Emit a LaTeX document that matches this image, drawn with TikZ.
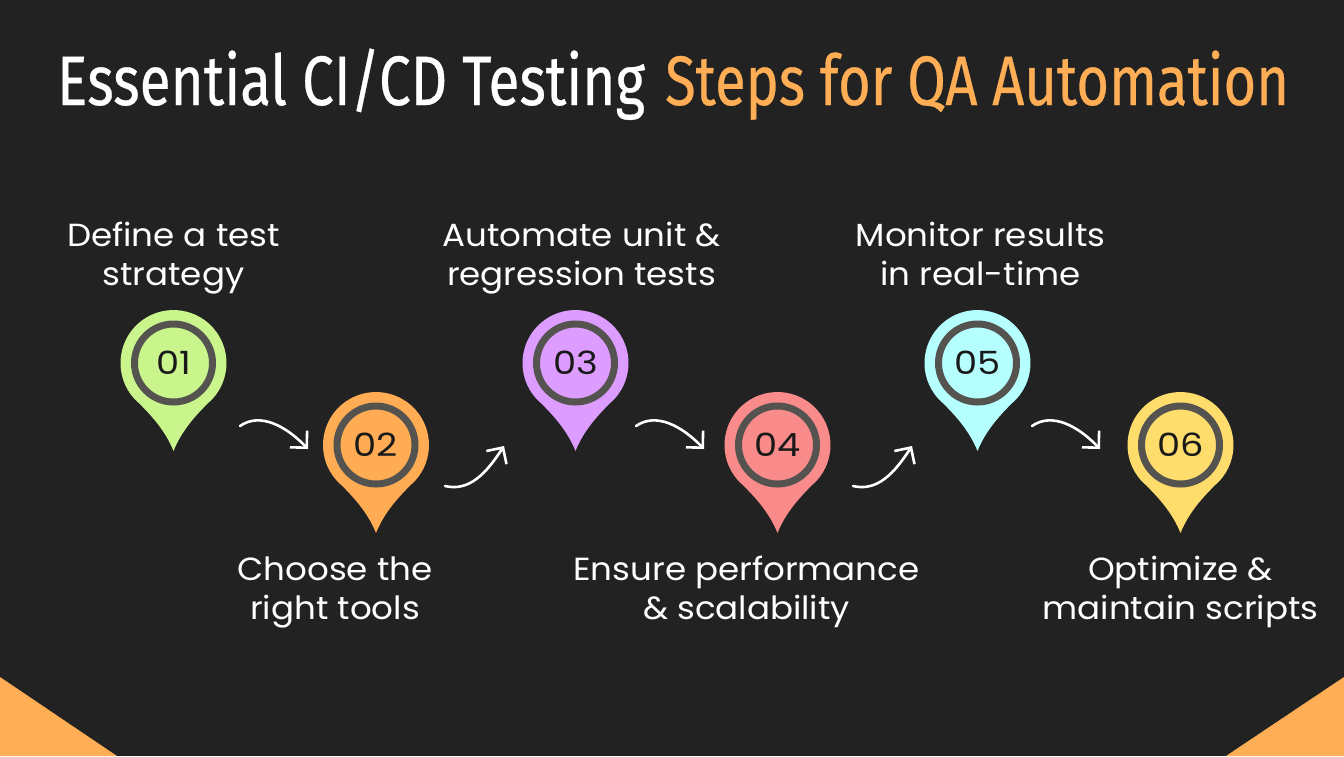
\documentclass[tikz,border=0pt]{standalone}
\usepackage{fontspec}
\setmainfont{Poppins}
\newfontfamily\titlefont[FakeBold=0.5]{Fira Sans}
\usetikzlibrary{arrows.meta}
\definecolor{bgdark}{HTML}{222222}
\definecolor{accent}{HTML}{FFAE55}
\definecolor{ringc}{HTML}{555350}
\definecolor{pgreen}{HTML}{C9F58C}
\definecolor{porange}{HTML}{FFAC55}
\definecolor{ppurple}{HTML}{DD9CFF}
\definecolor{pred}{HTML}{F98B8B}
\definecolor{pcyan}{HTML}{B6FFFF}
\definecolor{pyellow}{HTML}{FFDD6C}
\newcommand{\cs}{\vphantom{Ag}}
\newcommand{\wide}[1]{\scalebox{1.15}[1]{#1}}
\tikzset{
  ring/.style={circle,draw=ringc,line width=7pt,minimum size=78pt,inner sep=0pt,font=\fontsize{32}{34}\selectfont,text=black!90},
  caption/.style={text=white,align=center,font=\fontsize{32}{39}\selectfont,inner sep=0pt,xscale=1.065},
  flow/.style={draw=white,line width=2.6pt,line cap=round,-{Straight Barb[length=12pt,width=24pt,line width=2.6pt]}},
  titletext/.style={inner sep=0pt,anchor=base west,font=\titlefont\fontsize{70}{76}\selectfont}
}
\newcommand{\mypin}[5]{%
  \fill[#4] (#2-39.4,#3+35.5) arc[start angle=138,end angle=402,radius=53]
    .. controls (#2+22,#3+52) and (#2+8,#3+68) .. (#2,#3+88)
    .. controls (#2-8,#3+68) and (#2-22,#3+52) .. cycle;
  \node[ring] (#1) at (#2,#3) {\wide{#5}};
}
\begin{document}
\begin{tikzpicture}[x=1pt,y=-1pt]
\useasboundingbox (0,0) rectangle (1344,756);
\fill[bgdark] (0,0) rectangle (1344,756);
\fill[accent] (0,677) -- (117,756) -- (0,756) -- cycle;
\fill[accent] (1344,677) -- (1226,756) -- (1344,756) -- cycle;

\node[titletext,text=white,xscale=0.81] (t1) at (57,105) {Essential CI/CD Testing};
\node[titletext,text=accent,xscale=0.80] (t2) at (665,105) {Steps for QA Automation};

\mypin{p1}{173.5}{363}{pgreen}{01}
\mypin{p2}{376}{445}{porange}{02}
\mypin{p3}{575.5}{363}{ppurple}{03}
\mypin{p4}{777.5}{445}{pred}{04}
\mypin{p5}{977.5}{363}{pcyan}{05}
\mypin{p6}{1180.5}{445}{pyellow}{06}

\node[caption] (c1) at (173.5,258.5) {\cs Define a test\\strategy\cs};
\node[caption] (c2) at (335,592.5) {\cs Choose the\\right tools\cs};
\node[caption] (c3) at (581.5,258.5) {\cs Automate unit \&\\regression tests\cs};
\node[caption] (c4) at (746.5,592.5) {\cs Ensure performance\\\& scalability\cs};
\node[caption] (c5) at (980.5,258.5) {\cs Monitor results\\in real-time\cs};
\node[caption] (c6) at (1180.5,592.5) {\cs Optimize \&\\maintain scripts\cs};

\coordinate (a1s) at (240,426); \coordinate (a1e) at (308,449);
\coordinate (a2s) at (445,486); \coordinate (a2e) at (504,446);
\coordinate (a3s) at (636,426); \coordinate (a3e) at (704,449);
\coordinate (a4s) at (853,486); \coordinate (a4e) at (912,446);
\coordinate (a5s) at (1032,426); \coordinate (a5e) at (1100,449);

\draw[flow] (a1s) .. controls ([shift={(20,-14)}]a1s) and ([shift={(-22,-23)}]a1e) .. (a1e);
\draw[flow] (a2s) .. controls ([shift={(25,6)}]a2s) and ([shift={(-17,26)}]a2e) .. (a2e);
\draw[flow] (a3s) .. controls ([shift={(20,-14)}]a3s) and ([shift={(-22,-23)}]a3e) .. (a3e);
\draw[flow] (a4s) .. controls ([shift={(25,6)}]a4s) and ([shift={(-17,26)}]a4e) .. (a4e);
\draw[flow] (a5s) .. controls ([shift={(20,-14)}]a5s) and ([shift={(-22,-23)}]a5e) .. (a5e);
\end{tikzpicture}
\end{document}
